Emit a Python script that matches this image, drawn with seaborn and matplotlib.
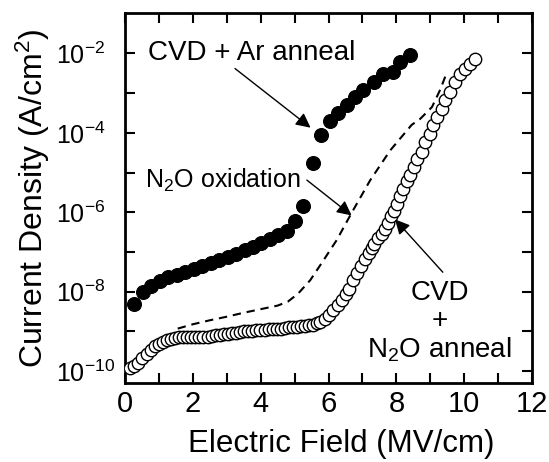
import numpy as np
import pandas as pd
import matplotlib
matplotlib.use('Agg')
import matplotlib.pyplot as plt
import seaborn as sns

# CVD + Ar anneal (filled), field in MV/cm, log10 of current density
ar_field = [0.27, 0.52, 0.77, 1.02, 1.27, 1.52, 1.77, 2.02, 2.27, 2.52, 2.77,
            3.02, 3.27, 3.52, 3.77, 4.02, 4.27, 4.52, 4.77, 5.00, 5.25, 5.53,
            5.77, 6.05, 6.29, 6.54, 6.78, 7.03, 7.33, 7.62, 7.91, 8.11, 8.41]
ar_logj = [-8.32, -8.00, -7.86, -7.74, -7.64, -7.57, -7.50, -7.43, -7.35, -7.28, -7.20,
           -7.12, -7.04, -6.96, -6.88, -6.78, -6.68, -6.58, -6.48, -6.22, -5.84, -4.75,
           -4.05, -3.69, -3.50, -3.31, -3.10, -2.93, -2.72, -2.51, -2.47, -2.22, -2.03]

# CVD + N2O anneal (open)
n2o_field = [0.15, 0.27, 0.39, 0.51, 0.63, 0.75, 0.87, 0.99, 1.11, 1.23, 1.35, 1.47,
             1.59, 1.71, 1.83, 1.95, 2.07, 2.19, 2.31, 2.43, 2.55, 2.67, 2.79, 2.91,
             3.03, 3.15, 3.27, 3.39, 3.51, 3.63, 3.75, 3.87, 3.99, 4.11, 4.23, 4.35,
             4.47, 4.59, 4.71, 4.83, 4.95, 5.07, 5.19, 5.31, 5.43, 5.55, 5.65,
             5.75, 5.88, 6.00, 6.14, 6.27, 6.39, 6.50, 6.61, 6.73, 6.85, 6.97, 7.08,
             7.18, 7.27, 7.35, 7.46, 7.57, 7.66, 7.75, 7.85, 7.94, 8.03, 8.12, 8.21,
             8.31, 8.41, 8.51, 8.62, 8.75, 8.85, 8.99, 9.09, 9.19, 9.34, 9.44, 9.59,
             9.73, 9.88, 10.03, 10.18, 10.32]
n2o_logj = [-9.93, -9.87, -9.80, -9.68, -9.56, -9.46, -9.38, -9.31, -9.26, -9.22, -9.19, -9.17,
            -9.15, -9.15, -9.14, -9.15, -9.15, -9.14, -9.15, -9.13, -9.11, -9.10, -9.08, -9.07,
            -9.06, -9.04, -9.03, -9.01, -9.00, -8.98, -8.98, -8.97, -8.97, -8.96, -8.95, -8.94,
            -8.93, -8.93, -8.91, -8.90, -8.89, -8.88, -8.87, -8.86, -8.85, -8.83, -8.80,
            -8.76, -8.68, -8.59, -8.47, -8.34, -8.21, -8.07, -7.93, -7.71, -7.52, -7.36, -7.18,
            -7.02, -6.90, -6.79, -6.66, -6.54, -6.41, -6.28, -6.10, -5.96, -5.80, -5.60, -5.42,
            -5.22, -5.06, -4.85, -4.66, -4.48, -4.23, -4.02, -3.81, -3.60, -3.39, -3.18, -2.97,
            -2.72, -2.51, -2.38, -2.26, -2.13]

# N2O oxidation (dashed)
ox_field = [1.55, 2.0, 2.5, 3.0, 3.5, 4.0, 4.5, 4.8, 5.1, 5.46, 5.85, 6.24, 6.69,
            7.23, 7.82, 8.45, 8.70, 9.05, 9.30, 9.50]
ox_logj = [-8.93, -8.82, -8.72, -8.63, -8.53, -8.44, -8.35, -8.25, -8.05, -7.71, -7.21,
           -6.70, -6.00, -5.19, -4.44, -3.80, -3.65, -3.35, -2.90, -2.45]

ar = pd.DataFrame({'E': ar_field, 'J': 10.0 ** np.array(ar_logj)})
n2o = pd.DataFrame({'E': n2o_field, 'J': 10.0 ** np.array(n2o_logj)})
ox = pd.DataFrame({'E': ox_field, 'J': 10.0 ** np.array(ox_logj)})

sns.set_style('ticks')
plt.rcParams['font.family'] = ['Liberation Sans', 'DejaVu Sans']
plt.rcParams['mathtext.fontset'] = 'custom'
plt.rcParams['mathtext.rm'] = 'Liberation Sans'
plt.rcParams['mathtext.it'] = 'Liberation Sans:italic'
plt.rcParams['mathtext.bf'] = 'Liberation Sans:bold'
for k in ['text.color', 'axes.labelcolor', 'xtick.color', 'ytick.color', 'axes.edgecolor']:
    plt.rcParams[k] = 'black'

fig = plt.figure(figsize=(5.49, 4.62), dpi=100)
ax = fig.add_axes([0.228, 0.171, 0.741, 0.801])

sns.lineplot(data=ox, x='E', y='J', ax=ax, color='black', lw=1.5,
             linestyle=(0, (4, 2.8)), sort=False, estimator=None)
sns.scatterplot(data=ar, x='E', y='J', ax=ax, color='black', s=100,
                edgecolor='black', linewidth=0.8, zorder=3)
sns.scatterplot(data=n2o, x='E', y='J', ax=ax, facecolor='white', s=80,
                edgecolor='black', linewidth=1.0, zorder=3)

ax.set_yscale('log')
ax.set_xlim(0, 12)
ax.set_ylim(10 ** -10.3, 10 ** -0.98)
ax.set_xticks(range(0, 13, 2))
ax.set_xticks(range(0, 13, 1), minor=True)
ax.set_yticks([10.0 ** k for k in range(-10, -1, 2)])
ax.set_yticklabels(['10$^{%d}$' % k for k in range(-10, -1, 2)])
ax.set_yticks([10.0 ** k for k in range(-10, -1)], minor=True)
ax.yaxis.set_minor_formatter(matplotlib.ticker.NullFormatter())

ax.tick_params(which='both', direction='in', top=True, right=True, width=1.5)
ax.tick_params(which='major', length=7)
ax.tick_params(which='minor', length=7)
ax.tick_params(axis='x', labelsize=21, pad=5)
ax.tick_params(axis='y', labelsize=18, pad=50)
plt.setp(ax.get_yticklabels(), ha='left')
for sp in ax.spines.values():
    sp.set_linewidth(2)
    sp.set_visible(True)

ax.set_xlabel('Electric Field (MV/cm)', fontsize=22.5)
ax.set_ylabel('Current Density (A/cm$^2$)', fontsize=23)
ax.xaxis.set_label_coords(0.53, -0.125)
ax.yaxis.set_label_coords(-0.18, 0.5)

arrow = dict(arrowstyle='-|>', color='black', lw=1.0, mutation_scale=22,
             shrinkA=0, shrinkB=0)
ax.annotate('', xy=(5.47, 10 ** -3.87), xytext=(3.24, 10 ** -2.38), arrowprops=arrow)
ax.text(0.68, 10 ** -2.0, 'CVD + Ar anneal', fontsize=20, va='center', ha='left')

ax.annotate('', xy=(6.68, 10 ** -6.08), xytext=(5.36, 10 ** -5.19), arrowprops=arrow)
ax.text(0.59, 10 ** -5.19, 'N$_2$O oxidation', fontsize=18, va='center', ha='left')

ax.annotate('', xy=(7.96, 10 ** -6.18), xytext=(9.37, 10 ** -7.51), arrowprops=arrow)
ax.text(9.28, 10 ** -8.77, 'CVD\n+\nN$_2$O anneal', fontsize=20, va='center',
        ha='center', multialignment='center', linespacing=1.08)

fig.savefig('out.png', dpi=100)
